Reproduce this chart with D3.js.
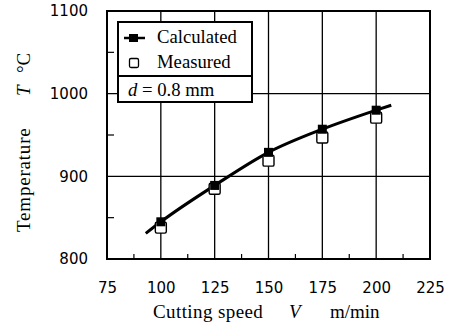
<!DOCTYPE html>
<html><head><meta charset="utf-8">
<script src="https://cdn.jsdelivr.net/npm/d3@7"></script>
<style>body{margin:0;background:#fff}svg{display:block}</style>
</head><body>
<script>
const speeds = [100, 125, 150, 175, 200];
const calculated = [845, 889, 929, 957, 980];
const measured = [838, 885, 919, 947, 971];
const curveV = [93, 100, 125, 150, 175, 200, 207];
const curveT = [831, 845, 889, 929, 957, 980, 986];
const xTicks = [75, 100, 125, 150, 175, 200, 225];
const yTicks = [800, 900, 1000, 1100];
const xMinor = [87.5, 112.5, 137.5, 162.5, 187.5, 212.5];
const yMinor = [850, 950, 1050];
const xGrid = [100, 125, 150, 175, 200];
const yGrid = [900, 1000];

const W = 451, H = 324;
const svg = d3.select("body").append("svg").attr("width", W).attr("height", H);
const x = d3.scaleLinear().domain([75, 225]).range([107, 430]);
const y = d3.scaleLinear().domain([800, 1100]).range([259, 11]);

// grid
svg.append("g").selectAll("line").data(xGrid).join("line")
  .attr("x1", d => x(d)).attr("x2", d => x(d)).attr("y1", y(800)).attr("y2", y(1100))
  .attr("stroke", "#000").attr("stroke-width", 1.3);
svg.append("g").selectAll("line").data(yGrid).join("line")
  .attr("x1", x(75)).attr("x2", x(225)).attr("y1", d => y(d)).attr("y2", d => y(d))
  .attr("stroke", "#000").attr("stroke-width", 1.3);
// minor ticks
svg.append("g").selectAll("line").data(xMinor).join("line")
  .attr("x1", d => x(d)).attr("x2", d => x(d)).attr("y1", y(800)).attr("y2", y(800) - 5)
  .attr("stroke", "#000").attr("stroke-width", 1.2);
svg.append("g").selectAll("line").data(yMinor).join("line")
  .attr("x1", x(75)).attr("x2", x(75) + 7).attr("y1", d => y(d)).attr("y2", d => y(d))
  .attr("stroke", "#000").attr("stroke-width", 1.2);

// frame
svg.append("rect").attr("x", x(75)).attr("y", y(1100))
  .attr("width", x(225) - x(75)).attr("height", y(800) - y(1100))
  .attr("fill", "none").attr("stroke", "#000").attr("stroke-width", 2);

// tick labels
const sans = "DejaVu Sans, Liberation Sans, sans-serif";
const xAxis = d3.axisBottom(x).tickValues(xTicks).tickFormat(d3.format("d")).tickSize(0).tickPadding(0);
const gx = svg.append("g").attr("transform", `translate(0,${y(800) + 29})`).call(xAxis);
gx.select(".domain").remove();
gx.selectAll("text").attr("font-family", sans)
  .attr("font-size", 15).attr("fill", "#000").attr("dy", "0.35em").attr("y", 0);
const yAxis = d3.axisLeft(y).tickValues(yTicks).tickFormat(d3.format("d")).tickSize(0).tickPadding(0);
const gy = svg.append("g").attr("transform", `translate(${x(75) - 19},0)`).call(yAxis);
gy.select(".domain").remove();
gy.selectAll("text").attr("font-family", sans)
  .attr("font-size", 15).attr("fill", "#000");

// curve
const pts = curveV.map((v, i) => [v, curveT[i]]);
svg.append("path").datum(pts)
  .attr("d", d3.line().x(d => x(d[0])).y(d => y(d[1])).curve(d3.curveMonotoneX))
  .attr("fill", "none").attr("stroke", "#000").attr("stroke-width", 3);

// measured squares
svg.append("g").selectAll("rect").data(speeds).join("rect")
  .attr("x", d => x(d) - 5.5).attr("y", (d, i) => y(measured[i]) - 5.5)
  .attr("width", 11).attr("height", 11).attr("rx", 1.5)
  .attr("fill", "#fff").attr("stroke", "#000").attr("stroke-width", 1.4);
// calculated markers
svg.append("g").selectAll("rect").data(speeds).join("rect")
  .attr("x", d => x(d) - 4.5).attr("y", (d, i) => y(calculated[i]) - 4.5)
  .attr("width", 9).attr("height", 9).attr("fill", "#000");

// legend
const serif = "Liberation Serif, Times New Roman, serif";
const lg = svg.append("g");
lg.append("rect").attr("x", 118).attr("y", 22).attr("width", 134).attr("height", 80)
  .attr("fill", "#fff").attr("stroke", "#000").attr("stroke-width", 2);
lg.append("line").attr("x1", 118).attr("x2", 252).attr("y1", 76).attr("y2", 76)
  .attr("stroke", "#000").attr("stroke-width", 2);
lg.append("line").attr("x1", 124).attr("x2", 145).attr("y1", 38).attr("y2", 38)
  .attr("stroke", "#000").attr("stroke-width", 2.5);
lg.append("rect").attr("x", 129).attr("y", 34).attr("width", 9).attr("height", 8).attr("fill", "#000");
lg.append("rect").attr("x", 129.5).attr("y", 58.5).attr("width", 9).attr("height", 9).attr("rx", 1.5)
  .attr("fill", "#fff").attr("stroke", "#000").attr("stroke-width", 1.3);
lg.append("text").attr("x", 157).attr("y", 43).attr("font-family", serif).attr("font-size", 18.7).text("Calculated");
lg.append("text").attr("x", 157).attr("y", 68).attr("font-family", serif).attr("font-size", 18.7).text("Measured");
const dt = lg.append("text").attr("x", 128).attr("y", 96).attr("font-family", serif).attr("font-size", 18.7);
dt.append("tspan").attr("font-style", "italic").text("d");
dt.append("tspan").text(" = 0.8 mm");

// axis titles
const xt = svg.append("text").attr("y", 318).attr("font-family", serif).attr("font-size", 19);
xt.append("tspan").attr("x", 153).attr("letter-spacing", 0.4).text("Cutting speed");
xt.append("tspan").attr("x", 289).attr("font-style", "italic").text("V");
xt.append("tspan").attr("x", 330).text("m/min");

const yt = svg.append("text").attr("transform", "translate(30,0) rotate(-90)").attr("font-family", serif).attr("font-size", 19);
yt.append("tspan").attr("x", -232).attr("letter-spacing", 0.8).text("Temperature");
yt.append("tspan").attr("x", -96).attr("font-style", "italic").text("T");
yt.append("tspan").attr("x", -73).text("°C");
</script>
</body></html>
